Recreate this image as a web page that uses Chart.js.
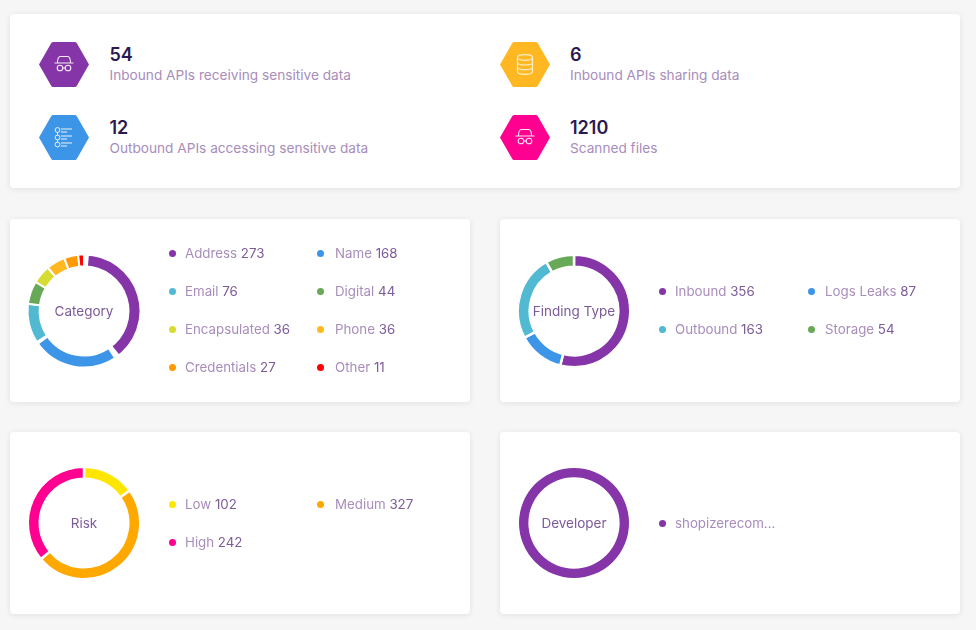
<!DOCTYPE html>
<html>
<head>
<meta charset="utf-8">
<title>Scan summary</title>
<script src="https://cdn.jsdelivr.net/npm/chart.js@4"></script>
<style>
    html, body { margin: 0; padding: 0; background: #f6f6f6; }
    body { position: relative; width: 976px; height: 630px; overflow: hidden; font-family: Inter, sans-serif; }
    .card { position: absolute; background: #fff; border-radius: 4px; box-shadow: 0 1px 6px rgba(0, 0, 0, 0.09); }
    .stat-num { position: absolute; font-size: 18px; font-weight: 600; color: #2b1a52; line-height: 20px; }
    .stat-label { position: absolute; font-size: 13.65px; color: #a88dbb; line-height: 18px; white-space: nowrap; }
    .hex { position: absolute; width: 50px; height: 45px; }
    canvas { position: absolute; }
    .center { position: absolute; width: 110px; text-align: center; font-size: 13.5px; color: #7d5a98; line-height: 18px; }
    .item { position: absolute; font-size: 13.3px; line-height: 18px; color: #a88dbb; white-space: nowrap; }
    .item b { font-weight: 400; color: #7d5a98; }
    .dot { position: absolute; width: 7px; height: 7px; border-radius: 50%; }
</style>
</head>
<body>
<script>
// datos de cada dona
const categoryLabels = ['Address', 'Name', 'Email', 'Digital', 'Encapsulated', 'Phone', 'Credentials', 'Other'];
const categoryValues = [273, 168, 76, 44, 36, 36, 27, 11];
const categoryColors = ['#8535a8', '#3d95e8', '#52b9d3', '#68a958', '#d6dc32', '#ffb822', '#ff9a05', '#ff0000'];

const findingLabels = ['Inbound', 'Logs Leaks', 'Outbound', 'Storage'];
const findingValues = [356, 87, 163, 54];
const findingColors = ['#8535a8', '#3d95e8', '#52b9d3', '#68a958'];

const riskLabels = ['Low', 'Medium', 'High'];
const riskValues = [102, 327, 242];
const riskColors = ['#ffe600', '#ffa800', '#ff0090'];

const developerLabels = ['shopizerecom...'];
const developerValues = [671];
const developerColors = ['#8535a8'];

// tarjetas de arriba
const statNumbers = ['54', '6', '12', '1210'];
const statLabels = ['Inbound APIs receiving sensitive data', 'Inbound APIs sharing data', 'Outbound APIs accessing sensitive data', 'Scanned files'];
const statColors = ['#8535a8', '#ffb822', '#3d95e8', '#ff0090'];

const spyIcon = '<g fill="none" stroke="#fff" stroke-width="1.1" opacity=".9"><path d="M15.5 21h19M18.5 21c0-3 .5-6 2.5-6.5h8c2 .5 2.5 3.5 2.5 6.5"/><circle cx="21" cy="26" r="2.8"/><circle cx="29" cy="26" r="2.8"/><path d="M23.8 26h2.4"/></g>';
const dbIcon = '<ellipse cx="25" cy="15.5" rx="7.5" ry="2.8" fill="none" stroke="#fff" stroke-width="1.2" opacity=".75"/><path d="M17.5 15.5v14c0 1.6 3.4 2.8 7.5 2.8s7.5-1.2 7.5-2.8v-14M17.5 20.2c0 1.6 3.4 2.8 7.5 2.8s7.5-1.2 7.5-2.8M17.5 24.9c0 1.6 3.4 2.8 7.5 2.8s7.5-1.2 7.5-2.8" fill="none" stroke="#fff" stroke-width="1.2" opacity=".75"/>';
const listIcon = '<g fill="none" stroke="#fff" stroke-width="1" opacity=".9"><circle cx="18.5" cy="15" r="2.4"/><circle cx="18.5" cy="22.5" r="2.4"/><circle cx="18.5" cy="29.5" r="2.4"/><path d="M18.5 17.4v2.7M18.5 24.9v2.2M22 14h11M22 17h6M22 21h11M22 24h6M22 28h11M22 31h6"/></g>';
const statIcons = [spyIcon, dbIcon, listIcon, spyIcon];
const statPos = [[39, 42], [500, 42], [39, 115], [500, 115]];
const statTextX = [70.5, 70, 70.5, 70];

// grados que se recortan al inicio y al final de Address y Name
const categoryTrims = [[5, 5.5], [0, 3]];

const trimPlugin = {
    id: 'trimArcs',
    afterDatasetsDraw(chart) {
        const ctx = chart.ctx;
        const deg = Math.PI / 180;
        ctx.save();
        ctx.strokeStyle = '#fff';
        categoryTrims.forEach((trim, i) => {
            const arc = chart.getDatasetMeta(0).data[i];
            ctx.lineWidth = arc.outerRadius - arc.innerRadius + 2;
            const r = (arc.outerRadius + arc.innerRadius) / 2;
            ctx.beginPath();
            ctx.arc(arc.x, arc.y, r, arc.startAngle, arc.startAngle + trim[0] * deg);
            ctx.stroke();
            ctx.beginPath();
            ctx.arc(arc.x, arc.y, r, arc.endAngle - trim[1] * deg, arc.endAngle);
            ctx.stroke();
        });
        ctx.restore();
    }
};

function addCard(x, y, w, h) {
    const div = document.createElement('div');
    div.className = 'card';
    div.style.cssText = `left:${x}px;top:${y}px;width:${w}px;height:${h}px`;
    document.body.appendChild(div);
}

function addText(cls, x, y, html) {
    const div = document.createElement('div');
    div.className = cls;
    div.style.left = x + 'px';
    div.style.top = y + 'px';
    div.innerHTML = html;
    document.body.appendChild(div);
    return div;
}

function addDonut(title, cx, cy, labels, values, colors, gap, plugins) {
    const canvas = document.createElement('canvas');
    canvas.style.left = (cx - 60) + 'px';
    canvas.style.top = (cy - 60) + 'px';
    document.body.appendChild(canvas);
    canvas.width = 120;
    canvas.height = 120;
    new Chart(canvas.getContext('2d'), {
        type: 'doughnut',
        data: {
            labels: labels,
            datasets: [{
                data: values,
                backgroundColor: colors,
                borderColor: '#fff',
                borderWidth: gap
            }]
        },
        options: {
            responsive: false,
            animation: false,
            cutout: gap ? '78.7%' : '83%',
            layout: { padding: gap ? 2.5 : 5 },
            plugins: { legend: { display: false }, tooltip: { enabled: false } }
        },
        plugins: plugins || []
    });
    addText('center', cx - 55, cy - 9, title);
}

function addLegend(labels, values, colors, rows) {
    labels.forEach((label, i) => {
        const [dotX, textX, y] = rows[i];
        const dot = addText('dot', dotX - 3.5, y - 3.5, '');
        dot.style.background = colors[i];
        const text = values ? `${label} <b>${values[i]}</b>` : label;
        addText('item', textX, y - 9, text);
    });
}

document.addEventListener('DOMContentLoaded', function () {
    addCard(10, 14, 950, 174);
    addCard(10, 219, 460, 183);
    addCard(500, 219, 460, 183);
    addCard(10, 432, 460, 182);
    addCard(500, 432, 460, 182);

    statNumbers.forEach((num, i) => {
        const [x, y] = statPos[i];
        addText('hex', x, y, `<svg width="50" height="45" viewBox="0 0 50 45"><path d="M0 22.5L12 1.5Q12.8 0 14 0H36Q37.2 0 38 1.5L50 22.5L38 43.5Q37.2 45 36 45H14Q12.8 45 12 43.5Z" fill="${statColors[i]}"/>${statIcons[i]}</svg>`);
        addText('stat-num', x + statTextX[i], y + 3, num);
        addText('stat-label', x + statTextX[i], y + 24, statLabels[i]);
    });

    addDonut('Category', 84, 311, categoryLabels, categoryValues, categoryColors, 2, [trimPlugin]);
    addDonut('Finding Type', 574, 311, findingLabels, findingValues, findingColors, 2.5);
    addDonut('Risk', 84, 523, riskLabels, riskValues, riskColors, 2.5);
    addDonut('Developer', 574, 523, developerLabels, developerValues, developerColors, 0);

    addLegend(categoryLabels, categoryValues, categoryColors, [
        [172, 185, 253], [320.5, 335, 253], [172, 185, 291], [320.5, 335, 291],
        [172, 185, 329], [320.5, 335, 329], [172, 185, 367], [320.5, 335, 367]
    ]);
    addLegend(findingLabels, findingValues, findingColors, [
        [662, 675, 291], [811, 825, 291], [662, 675, 329], [811, 825, 329]
    ]);
    addLegend(riskLabels, riskValues, riskColors, [
        [172, 185, 504], [320.5, 335, 504], [172, 185, 542]
    ]);
    addLegend(developerLabels, null, developerColors, [[662, 675, 523]]);
});
</script>
</body>
</html>
